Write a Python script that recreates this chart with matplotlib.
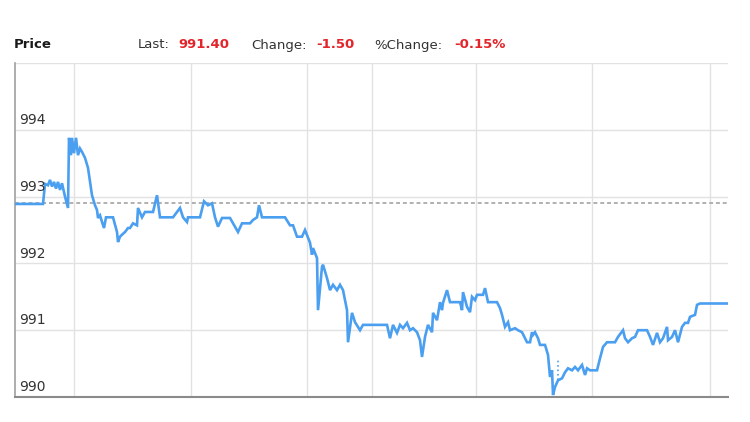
import matplotlib.pyplot as plt

# time offsets (minutes from the first bar) and prices
t = [0, 28, 30, 33, 35, 37, 39, 41, 43, 45, 47, 50, 53, 54, 56, 57, 59, 61, 63, 65,
     67, 70, 73, 77, 80, 82, 83, 85, 87, 89, 91, 92, 98, 102, 103, 105, 107, 110,
     113, 115, 118, 122, 123, 127, 130, 138, 142, 145, 158, 162, 165, 168, 172, 173,
     185, 189, 193, 197, 200, 203, 207, 215, 220, 223, 227, 235, 238, 242, 244, 247,
     270, 275, 278, 282, 287, 290, 295, 297, 298, 302, 303, 307, 308, 312, 315, 318,
     322, 325, 328, 332, 333, 337, 340, 345, 348, 372, 375, 378, 382, 385, 388, 392,
     395, 398, 402, 405, 407, 410, 413, 417, 418, 422, 425, 427, 428, 432, 435, 445,
     447, 448, 452, 455, 457, 460, 462, 468, 470, 473, 482, 485, 487, 490, 493, 495,
     500, 503, 507, 512, 515, 517, 518, 520, 523, 525, 530, 533, 535, 537, 538, 540,
     543, 547, 550, 553, 557, 560, 563, 567, 570, 572, 575, 582, 585, 588, 592, 600,
     603, 608, 610, 613, 617, 620, 623, 632, 635, 638, 642, 645, 648, 652, 653, 657,
     660, 663, 667, 670, 673, 675, 680, 682, 685, 713]
price = [992.89, 992.89, 993.19, 993.17, 993.25, 993.15, 993.22, 993.12, 993.22, 993.10,
         993.20, 993.00, 992.83, 993.88, 993.62, 993.88, 993.65, 993.88, 993.62, 993.72,
         993.67, 993.58, 993.43, 993.02, 992.87, 992.80, 992.68, 992.72, 992.62, 992.53,
         992.69, 992.69, 992.69, 992.47, 992.32, 992.40, 992.43, 992.47, 992.53, 992.53,
         992.60, 992.57, 992.83, 992.69, 992.77, 992.77, 993.02, 992.69, 992.69, 992.77,
         992.83, 992.69, 992.62, 992.69, 992.69, 992.93, 992.87, 992.90, 992.69, 992.55,
         992.68, 992.68, 992.55, 992.47, 992.60, 992.60, 992.65, 992.69, 992.87, 992.69,
         992.69, 992.57, 992.57, 992.40, 992.40, 992.50, 992.31, 992.13, 992.23, 992.08,
         991.30, 991.95, 991.98, 991.78, 991.60, 991.68, 991.60, 991.68, 991.60, 991.30,
         990.82, 991.26, 991.12, 991.00, 991.08, 991.08, 990.88, 991.08, 990.96, 991.08,
         991.03, 991.11, 991.00, 991.03, 990.97, 990.85, 990.60, 990.90, 991.08, 990.97,
         991.26, 991.15, 991.42, 991.30, 991.41, 991.60, 991.42, 991.42, 991.30, 991.57,
         991.35, 991.27, 991.50, 991.45, 991.53, 991.53, 991.63, 991.42, 991.42, 991.33,
         991.23, 991.05, 991.12, 991.00, 991.03, 991.00, 990.97, 990.82, 990.82, 990.97,
         990.93, 990.97, 990.88, 990.78, 990.78, 990.63, 990.30, 990.40, 990.03, 990.15,
         990.25, 990.28, 990.37, 990.43, 990.40, 990.45, 990.40, 990.48, 990.33, 990.43,
         990.40, 990.40, 990.58, 990.75, 990.82, 990.82, 990.90, 991.00, 990.88, 990.82,
         990.88, 990.90, 991.00, 991.00, 990.90, 990.78, 990.96, 990.82, 990.88, 991.05,
         990.85, 990.90, 991.00, 990.82, 991.05, 991.11, 991.11, 991.20, 991.23, 991.38,
         991.40, 991.40]

prev_close = 992.90
y_ticks = [990, 991, 992, 993, 994, 995]
y_labels = ['990', '991', '992', '993', '994']
x_grid = [59, 176, 292, 357, 461, 577, 695]

# small dotted marker near the low
mark_t = 543
mark_lo = 990.25
mark_hi = 990.58

blue = '#4a9ff0'
red = '#e3242b'

fig = plt.figure(figsize=(7.5, 4.22), dpi=100)
ax = fig.add_axes([0.02, 0.0592, 0.9507, 0.7915])

ax.set_xlim(0, 713)
ax.set_ylim(990, 995)

for v in y_ticks:
    ax.axhline(v, color='#e2e2e2', lw=1.0, zorder=0)
for v in x_grid:
    ax.axvline(v, color='#e2e2e2', lw=1.0, zorder=0)

ax.axhline(prev_close, color='#b0b0b0', lw=1.4, ls=(0, (2, 1.5)), zorder=1)

ax.plot(t, price, color=blue, lw=1.9, zorder=3, solid_joinstyle='miter')
ax.vlines(mark_t, mark_lo, mark_hi, colors=blue, lw=1.2, ls=':', zorder=3)

for lab in y_labels:
    ax.annotate(lab, xy=(0, float(lab)), xycoords=('axes fraction', 'data'),
                xytext=(3, 2), textcoords='offset points',
                ha='left', va='bottom', fontsize=10, color='#333333')

ax.set_xticks([])
ax.set_yticks([])
for s in ['top', 'right']:
    ax.spines[s].set_visible(False)
ax.spines['left'].set_color('#a0a0a0')
ax.spines['bottom'].set_color('#8a8a8a')
ax.spines['left'].set_linewidth(1.2)
ax.spines['bottom'].set_linewidth(1.5)

# header line
ty = 1 - 45 / 422
fig.text(14 / 750, ty, 'Price', fontsize=9.5, fontweight='bold', color='#1a1a1a', va='center')
parts = [(138, 'Last:', '#333333', 'normal'),
         (178, '991.40', red, 'bold'),
         (251, 'Change:', '#333333', 'normal'),
         (316, '-1.50', red, 'bold'),
         (374, '%Change:', '#333333', 'normal'),
         (454, '-0.15%', red, 'bold')]
for px, s, c, w in parts:
    fig.text(px / 750, ty, s, fontsize=9.5, fontweight=w, color=c, va='center')

fig.savefig('out.png', dpi=100)
